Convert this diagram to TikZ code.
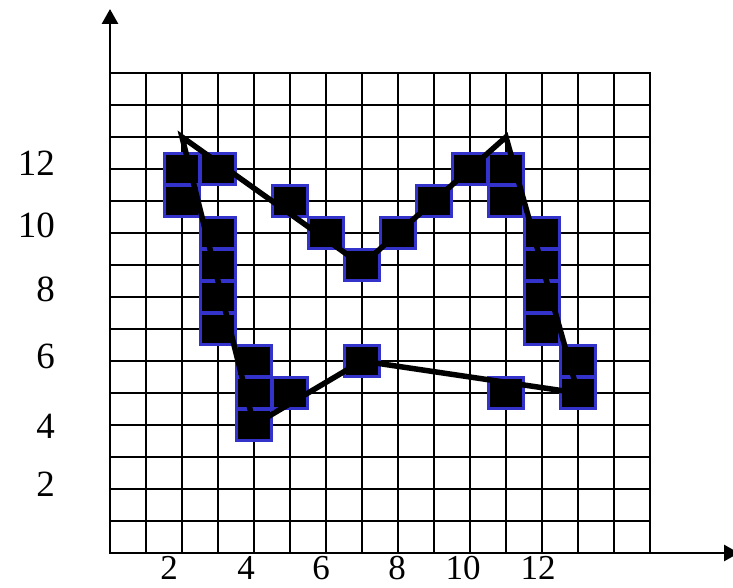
\documentclass[tikz,border=0pt]{standalone}
\usepackage{fontspec}
\setmainfont{Liberation Serif}
\usetikzlibrary{arrows.meta}
\definecolor{sqblue}{RGB}{51,51,204}
\begin{document}
\begin{tikzpicture}[x=1pt,y=-1pt,
  gridline/.style={line width=2.5pt,black,line cap=rect},
  axisline/.style={line width=2.8pt,black,-{Triangle[length=15pt,width=16pt]}},
  cell/.style={rectangle,fill=black,draw=sqblue,line width=2.2pt,minimum width=35pt,minimum height=31pt,inner sep=0pt},
  polyedge/.style={line width=5.5pt,black,line join=miter},
  lab/.style={font=\fontsize{37}{40}\selectfont,inner sep=0pt},
  xlab/.style={font=\fontsize{35}{38}\selectfont,inner sep=0pt,anchor=base}]
\useasboundingbox (0,0) rectangle (733,588);
% grid
\foreach \i in {0,...,15} {
  \draw[gridline] ({110+36*\i},73) -- ({110+36*\i},553);
  \draw[gridline] (110,{73+32*\i}) -- (650,{73+32*\i});
}
% axes
\coordinate (O) at (110,553);
\coordinate (ytip) at (110,9);
\coordinate (xtip) at (739,553);
\draw[axisline] (O) -- (ytip);
\draw[axisline] (O) -- (xtip);
% pixels
\foreach \u/\v in {2/12,2/11,3/12,5/11,6/10,7/9,8/10,9/11,10/12,11/12,11/11,3/10,3/9,3/8,3/7,12/10,12/9,12/8,12/7,4/6,4/5,4/4,5/5,7/6,13/6,13/5,11/5} {
  \node[cell] (s-\u-\v) at ({110+36*\u},{553-32*\v}) {};
}
% polygon
\coordinate (A) at ({110+36*2},{553-32*13});
\coordinate (B) at ({110+36*7},{553-32*9});
\coordinate (C) at ({110+36*11},{553-32*13});
\coordinate (D) at ({110+36*13},{553-32*5});
\coordinate (E) at ({110+36*7},{553-32*6});
\coordinate (F) at ({110+36*4},{553-32*4});
\draw[polyedge] (A) -- (B) -- (C) -- (D) -- (E) -- (F) -- cycle;
% y labels
\node[lab,anchor=base east] (y12) at (55,176) {12};
\node[lab,anchor=base east] (y10) at (55,237) {10};
\node[lab,anchor=base east] (y8) at (55,301) {8};
\node[lab,anchor=base east] (y6) at (55,368) {6};
\node[lab,anchor=base east] (y4) at (55,438) {4};
\node[lab,anchor=base east] (y2) at (55,496) {2};
% x labels
\node[xlab] (x2) at (169,579) {2};
\node[xlab] (x4) at (246,579) {4};
\node[xlab] (x6) at (321,579) {6};
\node[xlab] (x8) at (397,579) {8};
\node[xlab] (x10) at (463,579) {10};
\node[xlab] (x12) at (538,579) {12};
\end{tikzpicture}
\end{document}
